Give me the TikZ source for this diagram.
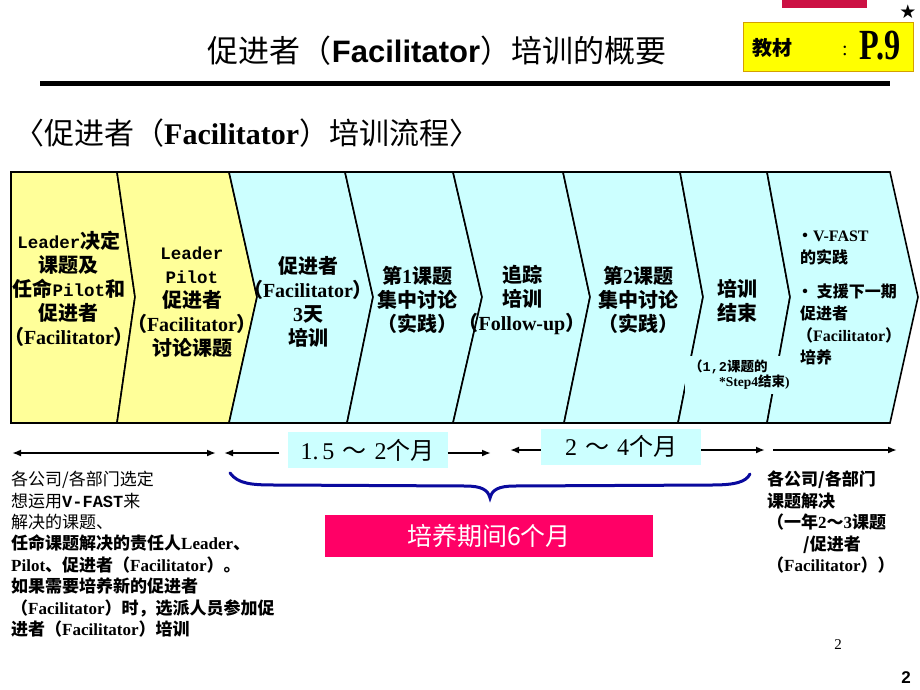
\documentclass[tikz,border=0pt]{standalone}
\usepackage{fontspec}
\setmainfont{Noto Sans CJK SC}
\newfontfamily\tms{Liberation Serif}
\newfontfamily\crr{Liberation Mono}
\newfontfamily\arl{Liberation Sans}
\newfontfamily\djv{DejaVu Sans}
\usetikzlibrary{arrows.meta,positioning}
\definecolor{stageyellow}{HTML}{FFFF99}
\definecolor{stagecyan}{HTML}{CCFFFF}
\definecolor{periodpink}{HTML}{FF0066}
\definecolor{bracenavy}{HTML}{0A0A9E}
\definecolor{tabred}{HTML}{CC1144}
\definecolor{pageyellow}{HTML}{FFFF00}
\definecolor{pageframe}{HTML}{D4A000}
\newcommand\facil{{\tms Facilitator}}
\newcommand\mono[1]{{\crr\bfseries\fontsize{17.5}{24}\selectfont #1}}
\newcommand\opn{\makebox[0.5em][r]{（}}
\newcommand\cls{\makebox[0.5em][l]{）}}

\begin{document}
\begin{tikzpicture}[x=1pt,y=-1pt,
  stage/.style={line width=1.6pt,line join=miter},
  stagetext/.style={font=\bfseries\fontsize{20}{24}\selectfont,align=center,inner sep=0pt},
  notetext/.style={font=\bfseries\fontsize{17}{21.4}\selectfont,align=left,inner sep=0pt,anchor=north west},
  monthbox/.style={fill=stagecyan,minimum width=160pt,minimum height=36pt,inner sep=0pt,font=\fontsize{24}{24}\selectfont},
  arr/.style={line width=2pt,-{Latex[length=9pt,width=7pt]}},
  darr/.style={line width=2pt,{Latex[length=9pt,width=7pt]}-{Latex[length=9pt,width=7pt]}}]
  \useasboundingbox (0,0) rectangle (920,690);
  \fill[white] (0,0) rectangle (920,690);

  \fill[tabred] (782,0) rectangle (867,8);
  \node[font=\djv\fontsize{19}{19}\selectfont,inner sep=0pt] (star) at (908,12) {★};
  \filldraw[fill=pageyellow,draw=pageframe,line width=1pt] (743,23) rectangle (913,72);
  \node[font=\bfseries\fontsize{20}{20}\selectfont,anchor=west,inner sep=0pt] (book) at (752,48) {教材\hspace{50pt}{\tms\mdseries :}};
  \node[font=\tms\bfseries\fontsize{43}{43}\selectfont,xscale=0.75,inner sep=0pt] (pnum) at (880,46) {P.9};

  \node[font=\fontsize{31}{31}\selectfont] (title) at (437,51) {促进者（{\arl\bfseries Facilitator}）培训的概要};
  \draw[line width=5pt] (40,84) -- (890,84);
  \node[font=\fontsize{30}{30}\selectfont,anchor=west,inner sep=0pt] (subtitle) at (14,133) {〈促进者（{\tms\bfseries Facilitator}）培训流程〉};

  \foreach \tx/\px/\bx/\col [remember=\tx as \ltx (initially 11), remember=\px as \lpx (initially 11), remember=\bx as \lbx (initially 11)] in
    {117/135/117/stageyellow, 229/257/229/stageyellow, 345/373/347/stagecyan, 453/482/453/stagecyan,
     563/590/564/stagecyan, 680/703/678/stagecyan, 767/790/767/stagecyan, 890/918/890/stagecyan}
    \filldraw[stage,fill=\col] (\ltx,172) -- (\tx,172) -- (\px,297) -- (\bx,423) -- (\lbx,423) -- (\lpx,297) -- cycle;

  \node[stagetext] (stage1) at (69,289) {\mono{Leader}决定\\课题及\\任命\mono{Pilot}和\\促进者\\\opn\facil\cls};
  \node[stagetext] (stage2) at (192,302) {\mono{Leader}\\\mono{Pilot}\\促进者\\\opn\facil\cls\\讨论课题};
  \node[stagetext] (stage3) at (308,302) {促进者\\\opn\facil\cls\\{\tms 3}天\\培训};
  \node[stagetext] (stage4) at (417,300) {第{\tms 1}课题\\集中讨论\\（实践）};
  \node[stagetext] (stage5) at (522,300) {追踪\\培训\\\opn{\tms Follow-up}\cls};
  \node[stagetext] (stage6) at (638,300) {第{\tms 2}课题\\集中讨论\\（实践）};
  \node[stagetext] (stage7) at (737,301) {培训\\结束};
  \node[font=\bfseries\fontsize{13.5}{15}\selectfont,align=left,inner sep=4pt,anchor=north west,fill=stagecyan] (stage7note) at (685,356) {（{\crr 1,2}课题的\\\hspace{30pt}{\tms *Step4}结束{\tms )}};
  \node[font=\bfseries\fontsize{16}{22}\selectfont,align=left,inner sep=0pt,anchor=north west] (stage8) at (797,231) {・{\tms V-FAST}\\\hspace{3pt}的实践\\[12pt]・ 支援下一期\\\hspace{3pt}促进者\\（\facil）\\\hspace{3pt}培养};

  \coordinate (span1l) at (12,453);
  \coordinate (span1r) at (216,453);
  \draw[darr] (span1l) -- (span1r);
  \node[monthbox] (month1) at (367.5,450) {{\tms 1.\hspace{4pt}5}\hspace{8pt}～\hspace{8pt}{\tms 2}个月};
  \coordinate (span2l) at (224,453);
  \coordinate (span2r) at (491,453);
  \draw[arr,shorten <=8pt] (month1.west |- span2l) -- (span2l);
  \draw[arr] (month1.east |- span2r) -- (span2r);
  \node[monthbox] (month2) at (621,446.5) {{\tms 2}\hspace{8pt}～\hspace{8pt}{\tms 4}个月};
  \coordinate (span3l) at (510,450);
  \coordinate (span3r) at (765,450);
  \draw[arr] (month2.west |- span3l) -- (span3l);
  \draw[arr] (month2.east |- span3r) -- (span3r);
  \coordinate (span4l) at (773,450);
  \coordinate (span4r) at (897,450);
  \draw[arr] (span4l) -- (span4r);

  \draw[bracenavy,line width=3pt,line cap=round] (230,473) .. controls (238,484) and (252,485) .. (275,485) -- (465,486) .. controls (482,486) and (488,490) .. (490,498) .. controls (492,490) and (498,486) .. (515,486) -- (712,485) .. controls (735,485) and (746,482) .. (750,474);
  \node[fill=periodpink,minimum width=328pt,minimum height=42pt,inner sep=0pt,text=white,font=\fontsize{25}{25}\selectfont] (period) at (489,536) {培养期间6个月};

  \node[notetext] (leftnote) at (11,471) {{\mdseries 各公司/各部门选定}\\{\mdseries 想运用{\crr\bfseries V-FAST}来}\\{\mdseries 解决的课题、}\\任命课题解决的责任人{\tms Leader}、\\{\tms Pilot}、促进者（\facil）。\\如果需要培养新的促进者\\（\facil）时，选派人员参加促\\进者（\facil）培训};
  \node[notetext] (rightnote) at (767,471) {各公司/各部门\\课题解决\\（一年{\tms 2}～{\tms 3}课题\\\hspace{36pt}/促进者\\（\facil））};

  \node[font=\tms\fontsize{15}{15}\selectfont,inner sep=0pt] (pageno) at (838,645) {2};
  \node[font=\arl\bfseries\fontsize{17}{17}\selectfont,inner sep=0pt] (slideno) at (906,678) {2};
\end{tikzpicture}
\end{document}
